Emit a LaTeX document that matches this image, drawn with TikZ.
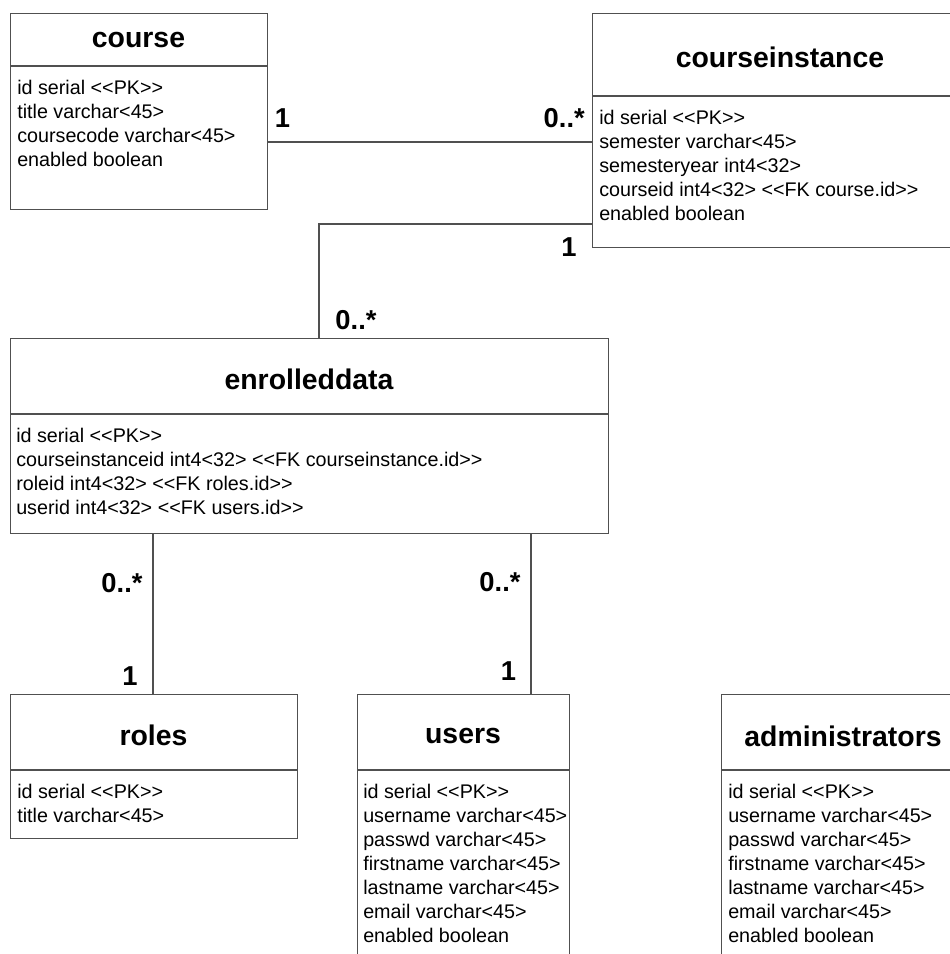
\documentclass[tikz,border=0pt]{standalone}
\usepackage{fontspec}
\setmainfont{Liberation Sans}
\definecolor{lc}{HTML}{505050}
\tikzset{
  classbox/.style={draw=lc, line width=1pt, anchor=north west, inner sep=0pt, fill=white},
  divline/.style={draw=lc, line width=1pt},
  conn/.style={draw=lc, line width=1pt},
  titletext/.style={font=\fontsize{21.3}{24}\selectfont\bfseries, inner sep=0pt},
  attrtext/.style={font=\fontsize{14.8}{18}\selectfont, align=left, anchor=north west, inner sep=0pt},
  mult/.style={font=\fontsize{20.5}{24}\selectfont\bfseries, inner sep=0pt}
}
\begin{document}
\begin{tikzpicture}[x=0.75pt,y=-0.75pt]
\useasboundingbox (0,0) rectangle (950,954);
\clip (0,0) rectangle (950,954);

% ---- course
\node[classbox, minimum width={257*0.75pt}, minimum height={196*0.75pt}] (course) at (10,13) {};
\draw[divline] (course.west |- 0,66) -- (course.east |- 0,66);
\node[titletext] (courset) at (138.5,40) {course};
\node[attrtext] (coursea) at (17,80) {id serial <{}<PK>{}>\\title varchar<45>\\coursecode varchar<45>\\enabled boolean};

% ---- courseinstance
\node[classbox, minimum width={376*0.75pt}, minimum height={234*0.75pt}] (ci) at (592,13) {};
\draw[divline] (ci.west |- 0,96) -- (ci.east |- 0,96);
\node[titletext] (cit) at (780,57) {courseinstance};
\node[attrtext] (cia) at (599,110) {id serial <{}<PK>{}>\\semester varchar<45>\\semesteryear int4<32>\\courseid int4<32> <{}<FK course.id>{}>\\enabled boolean};

% ---- enrolleddata
\node[classbox, minimum width={598*0.75pt}, minimum height={195*0.75pt}] (ed) at (10,338) {};
\draw[divline] (ed.west |- 0,414) -- (ed.east |- 0,414);
\node[titletext] (edt) at (309,379) {enrolleddata};
\node[attrtext] (eda) at (16,428) {id serial <{}<PK>{}>\\courseinstanceid int4<32> <{}<FK courseinstance.id>{}>\\roleid int4<32> <{}<FK roles.id>{}>\\userid int4<32> <{}<FK users.id>{}>};

% ---- roles
\node[classbox, minimum width={287*0.75pt}, minimum height={144*0.75pt}] (roles) at (10,694) {};
\draw[divline] (roles.west |- 0,770) -- (roles.east |- 0,770);
\node[titletext] (rolest) at (153.5,735) {roles};
\node[attrtext] (rolesa) at (17,784) {id serial <{}<PK>{}>\\title varchar<45>};

% ---- users
\node[classbox, minimum width={212*0.75pt}, minimum height={290*0.75pt}] (users) at (357,694) {};
\draw[divline] (users.west |- 0,770) -- (users.east |- 0,770);
\node[titletext] (userst) at (463,736) {users};
\node[attrtext] (usersa) at (363,784) {id serial <{}<PK>{}>\\username varchar<45>\\passwd varchar<45>\\firstname varchar<45>\\lastname varchar<45>\\email varchar<45>\\enabled boolean};

% ---- administrators
\node[classbox, minimum width={244*0.75pt}, minimum height={290*0.75pt}] (admin) at (721,694) {};
\draw[divline] (admin.west |- 0,770) -- (admin.east |- 0,770);
\node[titletext] (admint) at (843,736) {administrators};
\node[attrtext] (admina) at (728,784) {id serial <{}<PK>{}>\\username varchar<45>\\passwd varchar<45>\\firstname varchar<45>\\lastname varchar<45>\\email varchar<45>\\enabled boolean};

% ---- connectors
\coordinate (c1) at (400,142);
\draw[conn] (course.east |- c1) -- (ci.west |- c1);
\node[mult] (m1a) at (282.5,118) {1};
\node[mult, anchor=east] (m1b) at (585,118) {0..*};

\coordinate (bend) at (319,224);
\draw[conn] (ci.west |- bend) -- (bend) -- (bend |- ed.north);
\node[mult] (m2a) at (569,247) {1};
\node[mult] (m2b) at (356,320) {0..*};

\coordinate (x3) at (153,600);
\draw[conn] (ed.south -| x3) -- (roles.north -| x3);
\node[mult] (m3a) at (122,583) {0..*};
\node[mult] (m3b) at (130,676) {1};

\coordinate (x4) at (531,600);
\draw[conn] (ed.south -| x4) -- (users.north -| x4);
\node[mult] (m4a) at (500,582) {0..*};
\node[mult] (m4b) at (508.5,671) {1};
\end{tikzpicture}
\end{document}
